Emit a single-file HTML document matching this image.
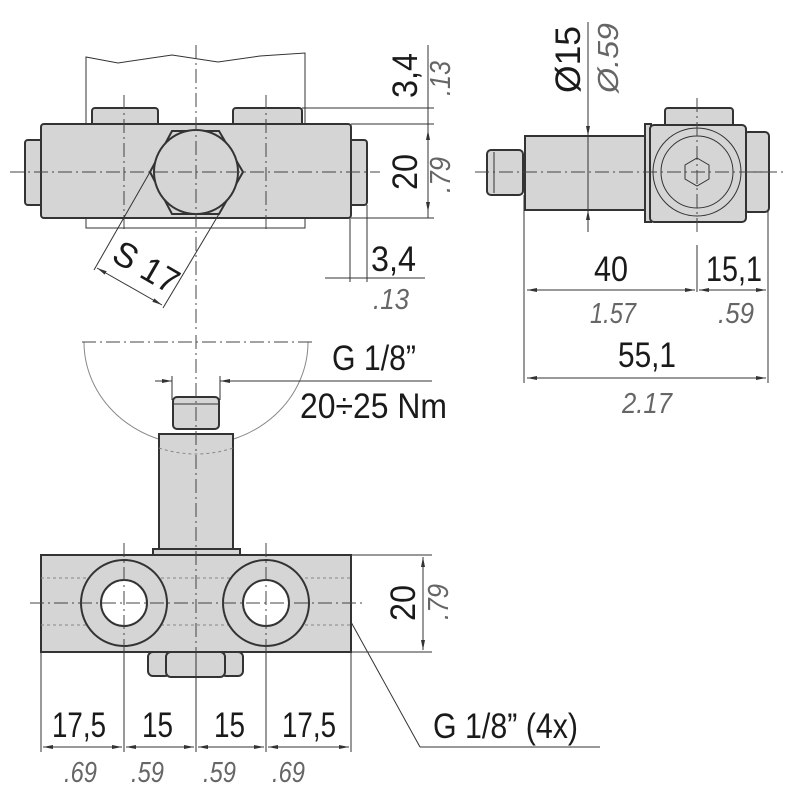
<!DOCTYPE html>
<html><head><meta charset="utf-8"><style>
html,body{margin:0;padding:0;background:#fff;}
svg{display:block}
.n{font-family:"Liberation Sans Narrow","Liberation Sans",sans-serif;font-size:35px;fill:#1a1a1a}
.i{font-family:"Liberation Sans Narrow","Liberation Sans",sans-serif;font-size:29px;font-style:italic;fill:#666}
.b{fill:#d5d5d5;stroke:#333;stroke-width:2}
.t{fill:none;stroke:#333;stroke-width:1}
.c{fill:none;stroke:#444;stroke-width:1;stroke-dasharray:14 4 2 4}
.h{fill:none;stroke:#888;stroke-width:1;stroke-dasharray:3 3}
</style></head><body>
<svg width="800" height="800" viewBox="0 0 800 800" xmlns="http://www.w3.org/2000/svg">
<defs><marker id="a" markerWidth="10" markerHeight="6" refX="10" refY="3" orient="auto-start-reverse"><path d="M0,1 L10,3 L0,5 z" fill="#333"/></marker></defs>

<!-- TOP VIEW -->
<path d="M86,228 V57 L118,63 L172,55 L218,62 L260,56 L305,53 V228 Z" class="t" stroke="#777"/>
<rect x="92" y="108" width="66" height="20" rx="3" class="b"/>
<rect x="233" y="108" width="69" height="20" rx="3" class="b"/>
<rect x="25" y="140" width="18" height="65" rx="3" class="b"/>
<rect x="349" y="140" width="18" height="65" rx="3" class="b"/>
<rect x="41" y="124" width="310" height="94" rx="3" class="b"/>
<polygon points="172,131 219,131 243,172 219,214 172,214 150,172" class="b" stroke-width="1.5"/>
<circle cx="196" cy="172" r="42" fill="#d5d5d5" stroke="#333" stroke-width="2"/>
<line x1="10" y1="172" x2="380" y2="172" class="c"/>
<line x1="196" y1="45" x2="196" y2="330" class="c"/>
<line x1="124" y1="95" x2="124" y2="232" class="c"/>
<line x1="266" y1="95" x2="266" y2="232" class="c"/>
<line x1="150" y1="172" x2="94" y2="270" class="t" stroke="#666"/>
<line x1="219" y1="214" x2="163" y2="308" class="t" stroke="#666"/>
<line x1="97" y1="268" x2="162" y2="305" class="t" marker-start="url(#a)" marker-end="url(#a)"/>
<text class="n" transform="translate(110,260) rotate(30)" textLength="70" lengthAdjust="spacingAndGlyphs">S 17</text>
<line x1="302" y1="108" x2="434" y2="108" class="t"/>
<line x1="351" y1="124" x2="434" y2="124" class="t"/>
<line x1="351" y1="218" x2="434" y2="218" class="t"/>
<line x1="428" y1="45" x2="428" y2="218" class="t"/>
<line x1="428" y1="130" x2="428" y2="212" class="t" marker-start="url(#a)" marker-end="url(#a)"/>
<text class="n" transform="translate(417,98) rotate(-90)" textLength="45" lengthAdjust="spacingAndGlyphs">3,4</text>
<text class="i" transform="translate(450,96) rotate(-90)" textLength="35" lengthAdjust="spacingAndGlyphs">.13</text>
<text class="n" transform="translate(417,190) rotate(-90)" textLength="36" lengthAdjust="spacingAndGlyphs">20</text>
<text class="i" transform="translate(450,193) rotate(-90)" textLength="36" lengthAdjust="spacingAndGlyphs">.79</text>
<line x1="350" y1="218" x2="350" y2="282" class="t"/>
<line x1="367" y1="205" x2="367" y2="282" class="t"/>
<line x1="325" y1="278" x2="425" y2="278" class="t"/>
<text class="n" x="371" y="271" textLength="45" lengthAdjust="spacingAndGlyphs">3,4</text>
<text class="i" x="373" y="309" textLength="36" lengthAdjust="spacingAndGlyphs">.13</text>

<!-- SIDE VIEW -->
<rect x="487" y="150" width="36" height="45" rx="4" class="b"/>
<line x1="494" y1="152" x2="494" y2="193" class="t"/>
<rect x="525" y="136" width="122" height="74" class="b"/>
<rect x="665" y="108" width="68" height="20" rx="3" class="b"/>
<rect x="645" y="124" width="6" height="98" class="b"/>
<rect x="744" y="132" width="25" height="80" rx="4" class="b"/>
<line x1="744" y1="172" x2="769" y2="172" class="t" stroke-width="2"/>
<rect x="650" y="125" width="96" height="97" rx="4" class="b"/>
<circle cx="697" cy="172" r="44" class="t" stroke-width="2"/>
<circle cx="697" cy="172" r="36" class="t" stroke-width="2"/>
<polygon points="697,158 709,165 709,179 697,186 685,179 685,165" class="t" stroke-width="2"/>
<line x1="475" y1="172" x2="785" y2="172" class="c"/>
<line x1="697" y1="98" x2="697" y2="232" class="c"/>
<line x1="588" y1="22" x2="588" y2="232" class="t"/>
<line x1="588" y1="125" x2="588" y2="136" class="t" marker-end="url(#a)"/>
<line x1="588" y1="222" x2="588" y2="210" class="t" marker-end="url(#a)"/>
<text class="n" transform="translate(580,93) rotate(-90)" textLength="67" lengthAdjust="spacingAndGlyphs">Ø15</text>
<text class="i" transform="translate(618,93) rotate(-90)" textLength="70" lengthAdjust="spacingAndGlyphs">Ø.59</text>
<line x1="524" y1="195" x2="524" y2="383" class="t"/>
<line x1="697" y1="245" x2="697" y2="292" class="t"/>
<line x1="768" y1="210" x2="768" y2="383" class="t"/>
<line x1="527" y1="290" x2="695" y2="290" class="t" marker-start="url(#a)" marker-end="url(#a)"/>
<line x1="699" y1="290" x2="766" y2="290" class="t" marker-start="url(#a)" marker-end="url(#a)"/>
<line x1="527" y1="378" x2="766" y2="378" class="t" marker-start="url(#a)" marker-end="url(#a)"/>
<text class="n" x="594" y="281" textLength="34" lengthAdjust="spacingAndGlyphs">40</text>
<text class="n" x="706" y="281" textLength="56" lengthAdjust="spacingAndGlyphs">15,1</text>
<text class="i" x="590" y="323" textLength="46" lengthAdjust="spacingAndGlyphs">1.57</text>
<text class="i" x="718" y="323" textLength="36" lengthAdjust="spacingAndGlyphs">.59</text>
<text class="n" x="618" y="367" textLength="58" lengthAdjust="spacingAndGlyphs">55,1</text>
<text class="i" x="622" y="413" textLength="50" lengthAdjust="spacingAndGlyphs">2.17</text>

<!-- BOTTOM VIEW -->
<path d="M84,342 A112,103 0 0 0 308,342" fill="none" stroke="#888" stroke-width="1"/>
<line x1="82" y1="342" x2="316" y2="342" class="c" stroke="#888"/>
<line x1="172" y1="376" x2="172" y2="400" class="t"/>
<line x1="220" y1="376" x2="220" y2="400" class="t"/>
<line x1="155" y1="381" x2="172" y2="381" class="t" marker-end="url(#a)"/>
<line x1="232" y1="381" x2="220" y2="381" class="t" marker-end="url(#a)"/>
<line x1="220" y1="381" x2="432" y2="381" class="t"/>
<text class="n" x="332" y="370" textLength="84" lengthAdjust="spacingAndGlyphs">G 1/8”</text>
<text class="n" x="300" y="418" textLength="147" lengthAdjust="spacingAndGlyphs">20÷25 Nm</text>
<rect x="173" y="397" width="46" height="32" rx="4" class="b"/>
<line x1="173" y1="404" x2="219" y2="404" class="t"/>
<rect x="159" y="434" width="74" height="118" class="b"/>
<path d="M159,448 Q196,460 233,448" class="h"/>
<rect x="153" y="549" width="87" height="7" class="b" stroke-width="1.5"/>
<rect x="41" y="555" width="310" height="97" class="b" stroke-width="1.5"/>
<line x1="41" y1="578" x2="351" y2="578" class="h"/>
<line x1="41" y1="625" x2="351" y2="625" class="h"/>
<circle cx="124" cy="603" r="43" fill="#d5d5d5" stroke="#333" stroke-width="2"/>
<circle cx="124" cy="603" r="23" fill="#fff" stroke="#333" stroke-width="2"/>
<circle cx="266" cy="603" r="43" fill="#d5d5d5" stroke="#333" stroke-width="2"/>
<circle cx="266" cy="603" r="23" fill="#fff" stroke="#333" stroke-width="2"/>
<rect x="148" y="652" width="22" height="24" rx="5" class="b"/>
<rect x="221" y="652" width="22" height="24" rx="5" class="b"/>
<rect x="166" y="652" width="59" height="25" rx="5" class="b"/>
<line x1="30" y1="603" x2="365" y2="603" class="c"/>
<line x1="196" y1="335" x2="196" y2="750" class="c"/>
<line x1="124" y1="543" x2="124" y2="750" class="c"/>
<line x1="266" y1="543" x2="266" y2="750" class="c"/>
<line x1="351" y1="555" x2="432" y2="555" class="t"/>
<line x1="351" y1="652" x2="432" y2="652" class="t"/>
<line x1="423" y1="557" x2="423" y2="650" class="t" marker-start="url(#a)" marker-end="url(#a)"/>
<text class="n" transform="translate(415,621) rotate(-90)" textLength="36" lengthAdjust="spacingAndGlyphs">20</text>
<text class="i" transform="translate(448,620) rotate(-90)" textLength="36" lengthAdjust="spacingAndGlyphs">.79</text>
<line x1="351" y1="622" x2="420" y2="747" class="t" stroke="#666"/>
<line x1="420" y1="747" x2="600" y2="747" class="t" stroke="#666"/>
<text class="n" x="433" y="738" textLength="145" lengthAdjust="spacingAndGlyphs">G 1/8” (4x)</text>
<line x1="41" y1="652" x2="41" y2="752" class="t"/>
<line x1="124" y1="652" x2="124" y2="752" class="t"/>
<line x1="196" y1="652" x2="196" y2="752" class="t"/>
<line x1="266" y1="652" x2="266" y2="752" class="t"/>
<line x1="351" y1="652" x2="351" y2="752" class="t"/>
<line x1="43" y1="747" x2="122" y2="747" class="t" marker-start="url(#a)" marker-end="url(#a)"/>
<line x1="126" y1="747" x2="194" y2="747" class="t" marker-start="url(#a)" marker-end="url(#a)"/>
<line x1="198" y1="747" x2="264" y2="747" class="t" marker-start="url(#a)" marker-end="url(#a)"/>
<line x1="268" y1="747" x2="349" y2="747" class="t" marker-start="url(#a)" marker-end="url(#a)"/>
<text class="n" x="52" y="737" textLength="54" lengthAdjust="spacingAndGlyphs">17,5</text>
<text class="n" x="142" y="737" textLength="31" lengthAdjust="spacingAndGlyphs">15</text>
<text class="n" x="214" y="737" textLength="31" lengthAdjust="spacingAndGlyphs">15</text>
<text class="n" x="282" y="737" textLength="54" lengthAdjust="spacingAndGlyphs">17,5</text>
<text class="i" x="64" y="782" textLength="33" lengthAdjust="spacingAndGlyphs">.69</text>
<text class="i" x="131" y="782" textLength="33" lengthAdjust="spacingAndGlyphs">.59</text>
<text class="i" x="203" y="782" textLength="33" lengthAdjust="spacingAndGlyphs">.59</text>
<text class="i" x="272" y="782" textLength="33" lengthAdjust="spacingAndGlyphs">.69</text>
</svg>
</body></html>
